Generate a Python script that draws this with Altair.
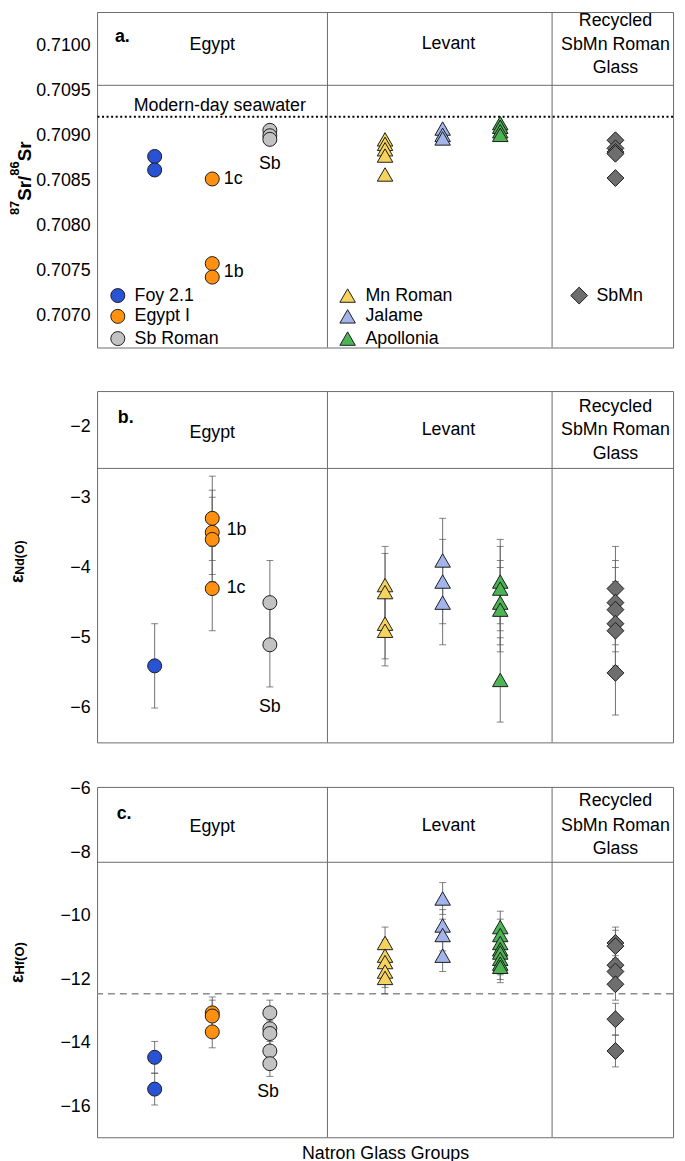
import altair as alt
import pandas as pd

FONT = "Liberation Sans"

# ---------------- groups ----------------
groups = ["Foy 2.1", "Egypt I", "Sb Roman", "Mn Roman", "Jalame", "Apollonia", "SbMn"]
group_x = [1, 2, 3, 5, 6, 7, 9]
group_colors = ["#2a52d4", "#ff9010", "#c2c2c2", "#f6d35c", "#a2b4e9", "#4cb454", "#6e6e6e"]
group_shapes = ["circle", "circle", "circle", "triangle-up", "triangle-up", "triangle-up", "diamond"]
region_dividers = [4.0, 7.9]

# ---------------- (a) 87Sr/86Sr ----------------
sr_foy = [0.70877, 0.70862]
sr_egypt1 = [0.70852, 0.70758, 0.70743]
sr_sbroman = [0.70906, 0.70900, 0.70896]
sr_mnroman = [0.70896, 0.70891, 0.70885, 0.70878, 0.70857]
sr_jalame = [0.70908, 0.70901, 0.70897]
sr_apollonia = [0.70914, 0.70910, 0.70905, 0.70901]
sr_sbmn = [0.70895, 0.70886, 0.70882, 0.70880, 0.70853]
seawater_sr = 0.70921
sr_ticks = [0.7070, 0.7075, 0.7080, 0.7085, 0.7090, 0.7095, 0.7100]

# ---------------- (b) eNd ----------------
nd_foy = [-5.4]
nd_egypt1 = [-3.3, -3.5, -3.6, -4.3]
nd_sbroman = [-4.5, -5.1]
nd_mnroman = [-4.25, -4.35, -4.8, -4.9]
nd_jalame = [-3.9, -4.2, -4.5]
nd_apollonia = [-4.2, -4.3, -4.5, -4.6, -5.6]
nd_sbmn = [-4.3, -4.5, -4.6, -4.8, -4.9, -5.5]
nd_foy_err = [0.6]
nd_egypt1_err = [0.6, 0.6, 0.6, 0.6]
nd_sbroman_err = [0.6, 0.6]
nd_mnroman_err = [0.55, 0.55, 0.5, 0.5]
nd_jalame_err = [0.6, 0.6, 0.6]
nd_apollonia_err = [0.6, 0.6, 0.6, 0.6, 0.6]
nd_sbmn_err = [0.6, 0.6, 0.6, 0.6, 0.6, 0.6]
nd_ticks = [-6, -5, -4, -3, -2]

# ---------------- (c) eHf ----------------
hf_foy = [-14.45, -15.45]
hf_egypt1 = [-13.05, -13.15, -13.65]
hf_sbroman = [-13.05, -13.55, -13.7, -14.25, -14.65]
hf_mnroman = [-10.85, -11.25, -11.45, -11.75, -11.95]
hf_jalame = [-9.45, -10.3, -10.6, -11.25]
hf_apollonia = [-10.35, -10.6, -10.85, -11.05, -11.15, -11.35, -11.5, -11.6]
hf_sbmn = [-10.85, -10.95, -11.55, -11.75, -12.15, -13.25, -14.25]
hf_foy_err = [0.5, 0.5]
hf_egypt1_err = [0.5, 0.5, 0.5]
hf_sbroman_err = [0.4, 0.4, 0.4, 0.4, 0.4]
hf_mnroman_err = [0.5, 0.5, 0.5, 0.5, 0.5]
hf_jalame_err = [0.5, 0.5, 0.5, 0.5]
hf_apollonia_err = [0.5, 0.5, 0.5, 0.5, 0.5, 0.5, 0.5, 0.5]
hf_sbmn_err = [0.5, 0.5, 0.5, 0.5, 0.5, 0.5, 0.5]
hf_reference = -12.45
hf_ticks = [-16, -14, -12, -10, -8, -6]

region_labels = ["Egypt", "Levant", "Recycled", "SbMn Roman", "Glass"]


def build(values, errs=None):
    rows = []
    for i, g in enumerate(groups):
        vals = values[i]
        es = errs[i] if errs else [0.0] * len(vals)
        for v, e in zip(vals, es):
            rows.append({"group": g, "x": group_x[i], "v": v, "lo": v - e, "hi": v + e,
                         "shape": group_shapes[i]})
    return pd.DataFrame(rows)


df_a = build([sr_foy, sr_egypt1, sr_sbroman, sr_mnroman, sr_jalame, sr_apollonia, sr_sbmn])
df_b = build([nd_foy, nd_egypt1, nd_sbroman, nd_mnroman, nd_jalame, nd_apollonia, nd_sbmn],
             [nd_foy_err, nd_egypt1_err, nd_sbroman_err, nd_mnroman_err, nd_jalame_err,
              nd_apollonia_err, nd_sbmn_err])
df_c = build([hf_foy, hf_egypt1, hf_sbroman, hf_mnroman, hf_jalame, hf_apollonia, hf_sbmn],
             [hf_foy_err, hf_egypt1_err, hf_sbroman_err, hf_mnroman_err, hf_jalame_err,
              hf_apollonia_err, hf_sbmn_err])

fill_enc = alt.Fill("group:N", scale=alt.Scale(domain=groups, range=group_colors), legend=None)
shape_enc = alt.Shape("group:N", scale=alt.Scale(domain=groups, range=group_shapes), legend=None)
DUMMY = pd.DataFrame({"d": [0]})
W = 582


def make_panel(df, ydom, yticks, yfmt, height, head_v, texts, titles, x_axis,
               err=True, dsize=250, extra=None, legend=None, top_pad=0):
    xs = alt.Scale(domain=[0, 10], nice=False, zero=False)
    ys = alt.Scale(domain=ydom, nice=False, zero=False)
    yax = alt.Axis(values=yticks, format=yfmt, ticks=False, tickSize=0, domain=False, grid=False,
                   labelFont=FONT, labelFontSize=18, labelColor="black", labelPadding=7, title="")

    def X(f):
        return alt.X(f"{f}:Q", scale=xs, axis=x_axis)

    def Y(f):
        return alt.Y(f"{f}:Q", scale=ys, axis=yax)

    size_enc = alt.Size("shape:O", scale=alt.Scale(domain=["circle", "triangle-up", "diamond"],
                                                   range=[200, 290, dsize]), legend=None)
    layers = []
    layers.append(alt.Chart(pd.DataFrame({"x": region_dividers}))
                  .mark_rule(color="#6b6b6b", strokeWidth=1).encode(x=X("x")))
    layers.append(alt.Chart(pd.DataFrame({"v": [head_v]}))
                  .mark_rule(color="#6b6b6b", strokeWidth=1).encode(y=Y("v")))
    if extra:
        for e in extra:
            layers.append(e(X, Y))
    base = alt.Chart(df)
    if err:
        layers.append(base.mark_rule(color="#707070", strokeWidth=1)
                      .encode(x=X("x"), y=Y("lo"), y2=alt.Y2("hi")))
        for f in ["lo", "hi"]:
            layers.append(base.mark_tick(orient="horizontal", size=7, thickness=1, color="#505050")
                          .encode(x=X("x"), y=Y(f)))
    layers.append(base.mark_point(filled=True, opacity=1, stroke="#1c1c1c", strokeWidth=1)
                  .encode(x=X("x"), y=Y("v"), fill=fill_enc, shape=shape_enc, size=size_enc))
    if legend is not None:
        layers.append(alt.Chart(legend).mark_point(filled=True, opacity=1, stroke="#1c1c1c", strokeWidth=1)
                      .encode(x=X("sx"), y=Y("v"), fill=fill_enc, shape=shape_enc, size=size_enc))
        layers.append(alt.Chart(legend).mark_text(align="left", baseline="middle", font=FONT,
                                                  fontSize=18, color="black")
                      .encode(x=X("tx"), y=Y("v"), text="group:N"))
    tdf = pd.DataFrame(texts, columns=["x", "v", "text", "align", "weight"])
    for (al, wt), sub in tdf.groupby(["align", "weight"]):
        layers.append(alt.Chart(sub).mark_text(align=al, baseline="middle", font=FONT, fontSize=18,
                                               fontWeight=wt, color="black")
                      .encode(x=X("x"), y=Y("v"), text="text:N"))
    for (txt, px, py, fs, al) in titles:
        layers.append(alt.Chart(DUMMY).mark_text(text=txt, angle=270, align=al, baseline="middle",
                                                 font=FONT, fontSize=fs, fontWeight="bold",
                                                 color="black")
                      .encode(x=alt.value(px), y=alt.value(py)))
    if top_pad:
        layers.append(alt.Chart(DUMMY).mark_rule(opacity=0)
                      .encode(x=alt.value(0), y=alt.value(-top_pad), y2=alt.value(0)))
    return alt.layer(*layers).properties(width=W, height=height)


# ---- panel a ----
def seawater(X, Y):
    return (alt.Chart(pd.DataFrame({"v": [seawater_sr]}))
            .mark_rule(color="black", strokeWidth=2, strokeDash=[2, 2.6]).encode(y=Y("v")))


legend_rows = [0.707225, 0.706994, 0.706747]
legend_df = pd.DataFrame({
    "group": groups,
    "sx": [0.36, 0.36, 0.36, 4.35, 4.35, 4.35, 8.37],
    "tx": [0.65, 0.65, 0.65, 4.66, 4.66, 4.66, 8.67],
    "v": [legend_rows[0], legend_rows[1], legend_rows[2],
          legend_rows[0], legend_rows[1], legend_rows[2], legend_rows[0]],
    "shape": group_shapes,
})

texts_a = [
    (0.31, 0.710099, "a.", "left", "bold"),
    (2.0, 0.710010, region_labels[0], "center", "normal"),
    (6.1, 0.710020, region_labels[1], "center", "normal"),
    (9.0, 0.710275, region_labels[2], "center", "normal"),
    (9.0, 0.710011, region_labels[3], "center", "normal"),
    (9.0, 0.709747, region_labels[4], "center", "normal"),
    (2.13, 0.709330, "Modern-day seawater", "center", "normal"),
    (2.2, 0.70852, "1c", "left", "normal"),
    (2.2, 0.70749, "1b", "left", "normal"),
    (3.0, 0.70869, "Sb", "center", "normal"),
]
titles_a = [
    ("87", -82.5, 205.2, 13, "left"),
    ("Sr/", -73, 190.7, 19, "left"),
    ("86", -82.5, 165.4, 13, "left"),
    ("Sr", -73, 150.9, 19, "left"),
]
pa = make_panel(df_a, [0.706648, 0.710374], sr_ticks, ".4f", 339, 0.70956, texts_a, titles_a,
                None, err=False, dsize=235, extra=[seawater], legend=legend_df)

# ---- panel b ----
texts_b = [
    (0.36, -1.88, "b.", "left", "bold"),
    (2.0, -2.08, region_labels[0], "center", "normal"),
    (6.1, -2.045, region_labels[1], "center", "normal"),
    (9.0, -1.71, region_labels[2], "center", "normal"),
    (9.0, -2.045, region_labels[3], "center", "normal"),
    (9.0, -2.39, region_labels[4], "center", "normal"),
    (2.25, -3.47, "1b", "left", "normal"),
    (2.25, -4.29, "1c", "left", "normal"),
    (3.0, -5.99, "Sb", "center", "normal"),
]
titles_b = [
    ("ε", -80, 185.5, 18, "right"),
    ("Nd(O)", -78, 185.5, 12.5, "left"),
]
pb = make_panel(df_b, [-6.489, -1.489], nd_ticks, "d", 355, -2.59, texts_b, titles_b,
                None, err=True, dsize=285, top_pad=9)

# ---- panel c ----
def hf_line(X, Y):
    return (alt.Chart(pd.DataFrame({"v": [hf_reference]}))
            .mark_rule(color="#8c8c8c", strokeWidth=1.5, strokeDash=[7, 5]).encode(y=Y("v")))


texts_c = [
    (0.34, -6.78, "c.", "left", "bold"),
    (2.0, -7.215, region_labels[0], "center", "normal"),
    (6.1, -7.17, region_labels[1], "center", "normal"),
    (9.0, -6.39, region_labels[2], "center", "normal"),
    (9.0, -7.17, region_labels[3], "center", "normal"),
    (9.0, -7.88, region_labels[4], "center", "normal"),
    (2.97, -15.53, "Sb", "center", "normal"),
]
titles_c = [
    ("ε", -80, 189.5, 18, "right"),
    ("Hf(O)", -78, 189.5, 13, "left"),
]
x_axis_c = alt.Axis(title="Natron Glass Groups", labels=False, ticks=False, domain=False, grid=False,
                    titleFont=FONT, titleFontSize=18, titleFontWeight="normal", titleColor="black",
                    titlePadding=7)
pc = make_panel(df_c, [-16.966, -5.938], hf_ticks, "d", 354, -8.31, texts_c, titles_c,
                x_axis_c, err=True, dsize=285, extra=[hf_line], top_pad=10)

chart = (alt.vconcat(pa, pb, pc, spacing=33)
         .properties(padding={"left": 0, "top": -3, "right": 2, "bottom": 0})
         .configure(font=FONT)
         .configure_view(stroke="#6b6b6b", strokeWidth=1))

chart.save("out.html", embed_options={"renderer": "svg", "actions": False})
